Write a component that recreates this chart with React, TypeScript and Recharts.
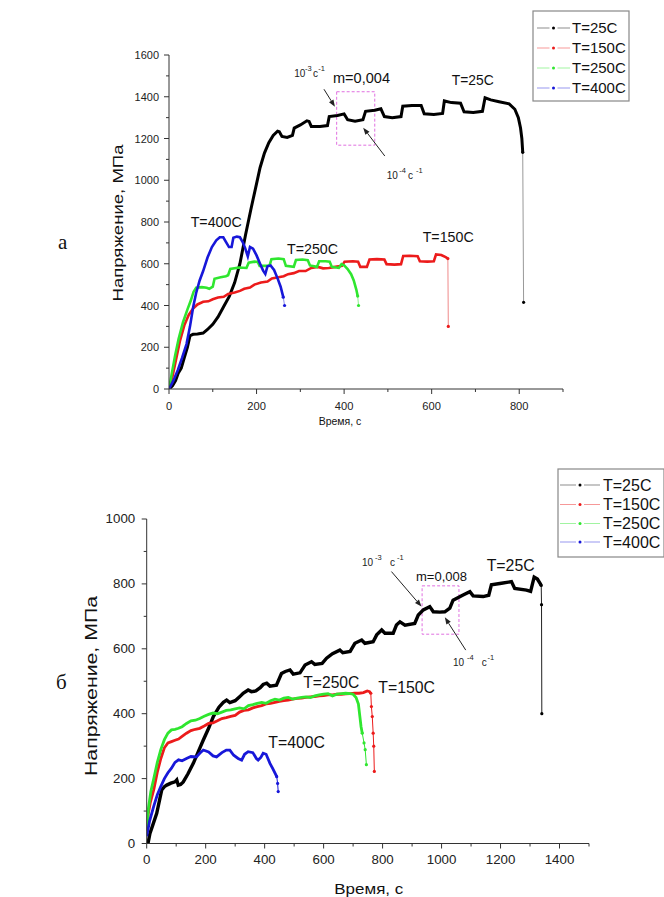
import React from 'react';
import { LineChart, Line, XAxis, YAxis, ReferenceArea, ReferenceLine } from 'recharts';

type Pt = [number, number];

const FONT = '"Liberation Sans", Arial, sans-serif';

// --- panel а: time (s) vs stress (MPa) ---
const a25: Pt[] = [
  [0, 0], [8, 15], [15, 40], [21, 75], [28, 100], [35, 150], [42, 200], [48, 255], [55, 262], [65, 264], [78, 268],
  [88, 285], [100, 310], [112, 345], [125, 395], [138, 445], [150, 510], [162, 600], [175, 740], [187, 860],
  [198, 965], [208, 1060], [218, 1130], [228, 1180], [238, 1215], [248, 1235], [252, 1232], [258, 1210],
  [270, 1205], [282, 1215], [286, 1250], [300, 1265], [315, 1285], [320, 1282], [325, 1258], [345, 1258],
  [362, 1262], [366, 1305], [385, 1310], [400, 1318], [408, 1290], [425, 1283], [443, 1290], [449, 1330],
  [470, 1335], [484, 1342], [492, 1305], [510, 1300], [530, 1305], [534, 1355], [555, 1358], [576, 1358],
  [583, 1318], [605, 1315], [625, 1320], [629, 1380], [645, 1372], [666, 1369], [674, 1328], [695, 1325],
  [716, 1330], [722, 1395], [735, 1385], [754, 1376], [777, 1366], [790, 1340], [798, 1300], [803, 1250],
  [806, 1200], [808, 1134],
];
const a25Tail: Pt[] = [[808, 1134], [810, 415]];

const a150: Pt[] = [
  [0, 0], [8, 60], [16, 140], [25, 230], [35, 305], [45, 355], [55, 385], [65, 405], [78, 418], [90, 420],
  [100, 430], [112, 438], [125, 442], [135, 455], [150, 462], [162, 470], [172, 480], [185, 486], [195, 500],
  [210, 510], [225, 515], [235, 530], [250, 535], [262, 540], [272, 550], [285, 555], [297, 565], [312, 565],
  [325, 580], [340, 585], [352, 578], [365, 580], [380, 585], [395, 590], [401, 610], [420, 612], [432, 610],
  [437, 585], [452, 585], [458, 620], [475, 622], [492, 620], [497, 598], [515, 596], [530, 598], [535, 637],
  [550, 638], [568, 636], [573, 612], [590, 610], [605, 612], [610, 645], [622, 642], [632, 632], [637, 625],
];
const a150Tail: Pt[] = [[637, 625], [638, 300]];

const a250: Pt[] = [
  [0, 0], [6, 70], [14, 160], [22, 240], [32, 320], [42, 380], [50, 425], [56, 465], [62, 485], [75, 488],
  [86, 485], [92, 480], [100, 490], [104, 528], [118, 535], [130, 540], [135, 545], [140, 575], [160, 582],
  [177, 580], [182, 605], [195, 610], [203, 608], [207, 590], [225, 590], [230, 593], [234, 622], [250, 625],
  [262, 622], [267, 590], [285, 585], [290, 618], [305, 620], [317, 617], [322, 592], [338, 585], [343, 612],
  [358, 612], [367, 610], [372, 585], [388, 580], [394, 598], [400, 592], [408, 575], [416, 550], [422, 520],
  [428, 475], [431, 445],
];
const a250Tail: Pt[] = [[431, 445], [433, 400]];

const a400: Pt[] = [
  [0, 0], [10, 40], [20, 90], [30, 150], [40, 215], [48, 300], [55, 390], [62, 460], [70, 520], [78, 565],
  [88, 630], [98, 680], [108, 712], [116, 727], [124, 727], [130, 705], [137, 680], [143, 680], [147, 725],
  [155, 730], [162, 727], [168, 705], [174, 675], [180, 635], [185, 680], [192, 672], [200, 640], [208, 600],
  [215, 567], [220, 551], [225, 588], [232, 592], [240, 570], [248, 530], [255, 490], [261, 440],
];
const a400Tail: Pt[] = [[261, 440], [264, 400]];

// --- panel б ---
const b25: Pt[] = [
  [0, 0], [5, 3], [11, 31], [20, 55], [34, 93], [45, 140], [51, 165], [60, 175], [68, 180], [82, 186],
  [96, 190], [102, 196], [107, 180], [115, 182], [124, 190], [140, 215], [158, 247], [175, 283], [192, 319],
  [210, 355], [226, 391], [245, 420], [260, 435], [271, 442], [282, 434], [300, 440], [315, 452], [327, 463],
  [344, 473], [355, 468], [370, 470], [385, 480], [395, 490], [407, 494], [418, 485], [440, 488], [457, 524],
  [470, 530], [486, 535], [497, 522], [520, 526], [537, 550], [559, 560], [570, 552], [595, 555], [610, 571],
  [630, 585], [655, 596], [665, 588], [690, 592], [706, 617], [729, 627], [740, 617], [768, 622], [780, 643],
  [797, 658], [808, 648], [836, 648], [847, 673], [859, 683], [876, 673], [909, 678], [921, 704], [938, 720],
  [960, 730], [972, 714], [994, 713], [1011, 714], [1028, 725], [1039, 750], [1073, 766], [1096, 776],
  [1107, 763], [1141, 761], [1160, 765], [1169, 797], [1203, 802], [1237, 807], [1248, 786], [1288, 781],
  [1302, 777], [1314, 821], [1325, 815], [1335, 800], [1338, 795],
];
const b25Tail: Pt[] = [[1338, 795], [1339, 736], [1340, 400]];

const b150: Pt[] = [
  [0, 40], [5, 90], [12, 125], [24, 166], [36, 220], [48, 262], [60, 295], [72, 310], [84, 314], [96, 318],
  [108, 322], [120, 330], [135, 340], [150, 348], [165, 352], [180, 355], [195, 362], [210, 370], [225, 372],
  [240, 378], [255, 385], [270, 388], [285, 392], [300, 395], [315, 405], [330, 410], [345, 412], [360, 418],
  [375, 422], [390, 425], [405, 430], [420, 432], [435, 435], [450, 438], [465, 440], [480, 442], [495, 445],
  [510, 447], [525, 448], [540, 450], [555, 452], [570, 453], [585, 455], [600, 456], [615, 458], [630, 458],
  [645, 460], [660, 460], [675, 461], [690, 462], [705, 463], [720, 463], [735, 465], [748, 470], [756, 468],
  [760, 463],
];
const b150Tail: Pt[] = [[760, 463], [762, 422], [765, 391], [768, 340], [770, 300], [772, 222]];

const b250: Pt[] = [
  [0, 40], [6, 110], [14, 160], [24, 200], [36, 250], [48, 290], [60, 320], [72, 340], [84, 350], [96, 352],
  [108, 355], [120, 360], [135, 370], [150, 378], [165, 380], [180, 385], [195, 392], [210, 398], [225, 402],
  [240, 400], [255, 405], [270, 410], [285, 412], [300, 415], [315, 418], [330, 415], [345, 425], [360, 428],
  [375, 432], [390, 435], [405, 432], [420, 440], [435, 445], [450, 442], [465, 448], [480, 450], [495, 445],
  [510, 448], [525, 450], [540, 452], [555, 450], [570, 455], [585, 458], [600, 460], [615, 462], [630, 455],
  [645, 460], [660, 462], [675, 463], [690, 462], [700, 460], [710, 450], [718, 430], [723, 391], [727, 360],
  [731, 340],
];
const b250Tail: Pt[] = [[731, 340], [737, 310], [741, 289], [745, 243]];

const b400: Pt[] = [
  [0, 22], [10, 70], [24, 115], [36, 150], [48, 176], [60, 200], [72, 218], [84, 232], [96, 250], [108, 258],
  [120, 255], [135, 262], [150, 268], [169, 267], [180, 278], [192, 288], [210, 282], [225, 270], [237, 267],
  [255, 280], [270, 288], [282, 288], [295, 272], [310, 262], [322, 257], [332, 275], [344, 283], [360, 280],
  [372, 262], [378, 257], [387, 265], [395, 278], [405, 275], [418, 247], [428, 230], [436, 215], [441, 206],
];
const b400Tail: Pt[] = [[441, 206], [444, 185], [446, 160]];

const xTicksA = [0, 100, 200, 300, 400, 500, 600, 700, 800, 900];
const yTicksA = [0, 100, 200, 300, 400, 500, 600, 700, 800, 900, 1000, 1100, 1200, 1300, 1400, 1500, 1600];
const xTicksB = [0, 100, 200, 300, 400, 500, 600, 700, 800, 900, 1000, 1100, 1200, 1300, 1400, 1500];
const yTicksB = [0, 100, 200, 300, 400, 500, 600, 700, 800, 900, 1000];

const legendLabels = ['T=25C', 'T=150C', 'T=250C', 'T=400C'];
const COLORS = ['#000000', '#ec1b1b', '#2fe62f', '#1717d9'];

const rows = (pts: Pt[]) => pts.map(([t, s]) => ({ t, s }));

function XTick({ x, y, payload, fs, digitW, dy }: any) {
  const v = payload.value;
  const major = v % 200 === 0;
  const label = String(v);
  return (
    <g>
      <line x1={x} y1={y} x2={x} y2={y + (major ? 5 : 3)} stroke="#333" />
      {major && (
        <text x={x} y={y + dy} textAnchor="middle" fontSize={fs} fontFamily={FONT} fill="#222"
          textLength={label.length * digitW} lengthAdjust="spacingAndGlyphs">{label}</text>
      )}
    </g>
  );
}

function YTick({ x, y, payload, fs, digitW, gap }: any) {
  const v = payload.value;
  const major = v % 200 === 0;
  const label = String(v);
  return (
    <g>
      <line x1={x} y1={y} x2={x - (major ? 5 : 3)} y2={y} stroke="#333" />
      {major && (
        <text x={x - gap} y={y + 4} textAnchor="end" fontSize={fs} fontFamily={FONT} fill="#222"
          textLength={label.length * digitW} lengthAdjust="spacingAndGlyphs">{label}</text>
      )}
    </g>
  );
}

function Arrow(props: any) {
  const { x1, y1, x2, y2 } = props;
  const ang = Math.atan2(y2 - y1, x2 - x1);
  const bx = x2 - 7 * Math.cos(ang);
  const by = y2 - 7 * Math.sin(ang);
  const px = -Math.sin(ang) * 2.6;
  const py = Math.cos(ang) * 2.6;
  return (
    <g>
      <line x1={x1} y1={y1} x2={bx} y2={by} stroke="#222" strokeWidth={1} />
      <polygon points={`${x2},${y2} ${bx + px},${by + py} ${bx - px},${by - py}`} fill="#222" />
    </g>
  );
}

function series(main: Pt[], tail: Pt[], color: string, w: number, tailColor: string, key: string) {
  return [
    <Line key={key} data={rows(main)} dataKey="s" type="linear" stroke={color} strokeWidth={w}
      dot={false} isAnimationActive={false} />,
    <Line key={key + 't'} data={rows(tail)} dataKey="s" type="linear" stroke={tailColor} strokeWidth={1}
      dot={{ r: 1.6, fill: color, stroke: 'none' }} isAnimationActive={false} />,
  ];
}

function RateLabel({ x10, xe, xc, xe1, base, e }: any) {
  const st = { fontFamily: FONT, fill: '#222' };
  return (
    <g>
      <text x={x10} y={base} fontSize={10} {...st}>10</text>
      <text x={xe} y={base - 6} fontSize={7.5} {...st}>{e}</text>
      <text x={xc} y={base} fontSize={10} {...st}>c</text>
      <text x={xe1} y={base - 6} fontSize={7.5} {...st}>-1</text>
    </g>
  );
}

function LegendBox({ x, y, w, h, rowY, s1, s2, tx, fs, stroke }: any) {
  return (
    <g>
      <rect x={x} y={y} width={w} height={h} fill="#fff" stroke={stroke} strokeWidth={1.2} />
      {legendLabels.map((lab, i) => {
        const cy = rowY[i];
        const mid = (s1 + s2) / 2;
        return (
          <g key={lab}>
            <line x1={s1} y1={cy} x2={mid - 4} y2={cy} stroke={COLORS[i]} strokeOpacity={0.45} />
            <line x1={mid + 4} y1={cy} x2={s2} y2={cy} stroke={COLORS[i]} strokeOpacity={0.45} />
            <circle cx={mid} cy={cy} r={1.5} fill={COLORS[i]} />
            <text x={tx} y={cy + fs * 0.36} fontSize={fs} fontFamily={FONT} fill="#111">{lab}</text>
          </g>
        );
      })}
    </g>
  );
}

function T({ x, y, fs, len, children, anchor }: any) {
  return (
    <text x={x} y={y} fontSize={fs} fontFamily={FONT} fill="#111" textAnchor={anchor || 'start'}
      textLength={len} lengthAdjust="spacingAndGlyphs">{children}</text>
  );
}

export default function App() {
  return (
    <div style={{ position: 'absolute', left: 0, top: 0, width: 664, height: 897, background: '#fff', overflow: 'hidden' }}>
      <div style={{ position: 'absolute', left: 0, top: 0 }}>
        <LineChart width={664} height={430} margin={{ top: 55, right: 101, left: 119, bottom: 11 }}>
          <XAxis dataKey="t" type="number" domain={[0, 900]} ticks={xTicksA} interval={0} height={30}
            stroke="#333" tickLine={false} tickSize={0} tickMargin={0}
            tick={<XTick fs={11} digitW={6.2} dy={21} />} allowDataOverflow />
          <YAxis type="number" domain={[0, 1600]} ticks={yTicksA} interval={0} width={50}
            stroke="#333" tickLine={false} tickSize={0} tickMargin={0}
            tick={<YTick fs={11} digitW={6.1} gap={10} />} allowDataOverflow />
          <ReferenceArea x1={383} x2={470} y1={1168} y2={1424} fill="none" fillOpacity={0}
            stroke="#e070e0" strokeDasharray="3 2" ifOverflow="visible" />
          {series(a25, a25Tail, COLORS[0], 3, '#999', 'a25')}
          {series(a150, a150Tail, COLORS[1], 2.6, '#f08a8a', 'a150')}
          {series(a250, a250Tail, COLORS[2], 2.6, '#8ef08e', 'a250')}
          {series(a400, a400Tail, COLORS[3], 2.6, '#8a8af0', 'a400')}
          <ReferenceLine segment={[{ x: 354, y: 1436 }, { x: 379, y: 1352 }]} shape={Arrow} ifOverflow="visible" />
          <ReferenceLine segment={[{ x: 493, y: 1116 }, { x: 443.6, y: 1252 }]} shape={Arrow} ifOverflow="visible" />
        </LineChart>
      </div>
      <div style={{ position: 'absolute', left: 0, top: 440 }}>
        <LineChart width={664} height={440} margin={{ top: 79, right: 75, left: 96.7, bottom: 6.5 }}>
          <XAxis dataKey="t" type="number" domain={[0, 1500]} ticks={xTicksB} interval={0} height={30}
            stroke="#333" tickLine={false} tickSize={0} tickMargin={0}
            tick={<XTick fs={12.5} digitW={7.4} dy={20.5} />} allowDataOverflow />
          <YAxis type="number" domain={[0, 1000]} ticks={yTicksB} interval={0} width={50}
            stroke="#333" tickLine={false} tickSize={0} tickMargin={0}
            tick={<YTick fs={12.5} digitW={7.4} gap={11.5} />} allowDataOverflow />
          <ReferenceArea x1={934} x2={1059} y1={645} y2={794} fill="none" fillOpacity={0}
            stroke="#e070e0" strokeDasharray="3 2" ifOverflow="visible" />
          {series(b25, b25Tail, COLORS[0], 3.4, '#222', 'b25')}
          {series(b150, b150Tail, COLORS[1], 2.8, COLORS[1], 'b150')}
          {series(b250, b250Tail, COLORS[2], 2.8, COLORS[2], 'b250')}
          {series(b400, b400Tail, COLORS[3], 2.8, COLORS[3], 'b400')}
          <ReferenceLine segment={[{ x: 830, y: 838 }, { x: 932, y: 730 }]} shape={Arrow} ifOverflow="visible" />
          <ReferenceLine segment={[{ x: 1082, y: 596 }, { x: 1011, y: 697 }]} shape={Arrow} ifOverflow="visible" />
        </LineChart>
      </div>
      <svg width={664} height={897} style={{ position: 'absolute', left: 0, top: 0, pointerEvents: 'none' }}>
        <text x={58} y={249} fontSize={21} fontFamily='"Liberation Serif", "Times New Roman", serif' fill="#111">а</text>
        <text x={56} y={689} fontSize={21} fontFamily='"Liberation Serif", "Times New Roman", serif' fill="#111">б</text>

        {/* panel а texts */}
        <text transform="translate(118,223) rotate(-90)" textAnchor="middle" dominantBaseline="central"
          fontSize={14} fontFamily={FONT} fill="#111" textLength={157} lengthAdjust="spacingAndGlyphs">Напряжение, МПа</text>
        <text x={340} y={425} textAnchor="middle" fontSize={10.5} fontFamily={FONT} fill="#111">Время, с</text>
        <T x={451.7} y={85} fs={14} len={42}>T=25C</T>
        <T x={333} y={83} fs={14} len={57}>m=0,004</T>
        <T x={190.7} y={226.7} fs={14} len={51}>T=400C</T>
        <T x={287} y={254} fs={14} len={51}>T=250C</T>
        <T x={422.7} y={242} fs={14} len={51}>T=150C</T>
        <RateLabel x10={294.3} xe={305} xc={313} xe1={318.3} base={77} e="-3" />
        <RateLabel x10={386.7} xe={399.3} xc={408} xe1={416} base={179.3} e="-4" />
        <LegendBox x={533} y={11} w={96} h={90} rowY={[28, 48, 68, 88]} s1={537} s2={570} tx={572} fs={15} stroke="#888" />

        {/* panel б texts */}
        <text transform="translate(91,686) rotate(-90)" textAnchor="middle" dominantBaseline="central"
          fontSize={16} fontFamily={FONT} fill="#111" textLength={180} lengthAdjust="spacingAndGlyphs">Напряжение, МПа</text>
        <T x={368.8} y={894} fs={15} len={69} anchor="middle">Время, с</T>
        <T x={486.7} y={570.5} fs={16} len={48}>T=25C</T>
        <T x={416} y={580.5} fs={13} len={51}>m=0,008</T>
        <T x={303.3} y={688} fs={16} len={56}>T=250C</T>
        <T x={378.3} y={693} fs={16} len={56.7}>T=150C</T>
        <T x={268.3} y={748} fs={16} len={56.7}>T=400C</T>
        <RateLabel x10={362} xe={375} xc={390} xe1={397} base={565.5} e="-3" />
        <RateLabel x10={453} xe={467} xc={481.7} xe1={487.5} base={665.5} e="-4" />
        <LegendBox x={558} y={469} w={106} h={88} rowY={[485, 504.5, 523.5, 542]} s1={560} s2={600} tx={603} fs={16} stroke="#888" />
      </svg>
    </div>
  );
}
